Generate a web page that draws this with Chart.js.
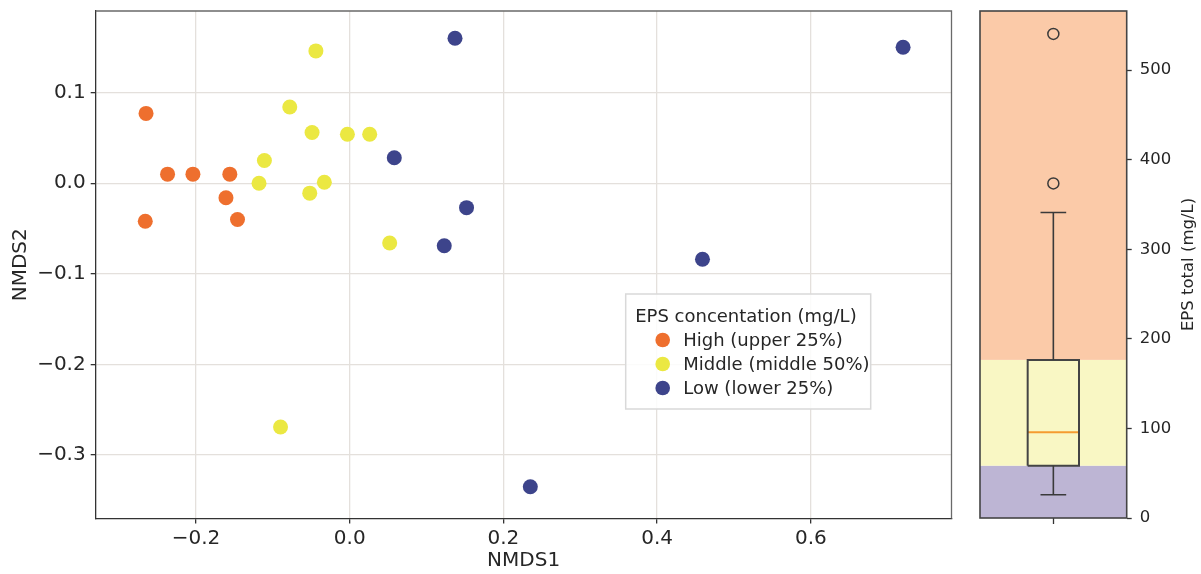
<!DOCTYPE html>
<html>
<head>
<meta charset="utf-8">
<script src="https://cdn.jsdelivr.net/npm/chart.js@4.4.1/dist/chart.umd.min.js"></script>
<style>
  html, body { margin: 0; padding: 0; background: #fff; }
  #wrap { position: relative; width: 1201px; height: 574px; }
  #nmds { position: absolute; left: 0; top: 0; }
  #eps { position: absolute; left: 960px; top: 0; }
</style>
</head>
<body>
<div id="wrap">
  <canvas id="nmds" width="960" height="574"></canvas>
  <canvas id="eps" width="241" height="574"></canvas>
</div>
<script>
// NMDS scores per sample, split by EPS concentration class
const highX = [-0.265, -0.266, -0.237, -0.204, -0.156, -0.161, -0.146];
const highY = [0.077, -0.042, 0.010, 0.010, 0.010, -0.016, -0.040];
const midX = [-0.044, -0.078, -0.049, -0.003, 0.026, -0.111, -0.118, -0.033, -0.052, 0.052, -0.090];
const midY = [0.146, 0.084, 0.056, 0.054, 0.054, 0.025, 0.000, 0.001, -0.011, -0.066, -0.269];
const lowX = [0.137, 0.720, 0.058, 0.152, 0.123, 0.459, 0.235];
const lowY = [0.160, 0.150, 0.028, -0.027, -0.069, -0.084, -0.335];
const classLabels = ['High (upper 25%)', 'Middle (middle 50%)', 'Low (lower 25%)'];
const xTicks = [-0.2, 0.0, 0.2, 0.4, 0.6];
const yTicks = [-0.3, -0.2, -0.1, 0.0, 0.1];

// EPS total (mg/L): whisker low, Q1, median, Q3, whisker high
const epsBox = [26, 58.4, 95.7, 176.5, 341];
const epsOutliers = [540.4, 373.5];
const epsTicks = [0, 100, 200, 300, 400, 500];

const FONT = 'DejaVu Sans';
const INK = '#262626';
Chart.defaults.font.family = FONT;
Chart.defaults.color = INK;

const pts = (xs, ys) => xs.map((x, i) => ({ x, y: ys[i] }));
const fmt = v => (v < -1e-9 ? '\u2212' : '') + Math.abs(v).toFixed(1);
const fixTicks = list => scale => { scale.ticks = list.map(v => ({ value: v })); };
// keep the plot box where the layout padding puts it
const noEdgePad = s => { s.paddingTop = 0; s.paddingBottom = 0; s.paddingLeft = 0; s.paddingRight = 0; };

// top and right spines
const frame = {
  id: 'frame',
  afterDraw(chart) {
    const { ctx, chartArea: a } = chart;
    ctx.save();
    ctx.strokeStyle = '#6a6a6a';
    ctx.lineWidth = 1.3;
    ctx.beginPath();
    ctx.moveTo(a.left, a.top);
    ctx.lineTo(a.right, a.top);
    ctx.lineTo(a.right, a.bottom);
    ctx.stroke();
    ctx.restore();
  }
};

// boxed legend with a title, drawn from the datasets
const classLegend = {
  id: 'classLegend',
  afterDraw(chart, args, o) {
    const { ctx } = chart;
    ctx.save();
    ctx.fillStyle = 'rgba(255,255,255,0.85)';
    ctx.strokeStyle = '#d9d9d9';
    ctx.lineWidth = 1.5;
    ctx.beginPath();
    ctx.rect(o.x, o.y, o.w, o.h);
    ctx.fill();
    ctx.stroke();
    ctx.font = '18px "' + FONT + '"';
    ctx.textBaseline = 'middle';
    ctx.fillStyle = INK;
    ctx.fillText(o.title, o.x + 9.5, o.y + 23);
    chart.data.datasets.forEach((ds, i) => {
      const cy = o.y + 47 + i * 24;
      ctx.fillStyle = ds.backgroundColor;
      ctx.beginPath();
      ctx.arc(o.x + 37, cy - 1, 7.3, 0, Math.PI * 2);
      ctx.fill();
      ctx.fillStyle = INK;
      ctx.fillText(ds.label, o.x + 57.5, cy);
    });
    ctx.restore();
  }
};

new Chart(document.getElementById('nmds'), {
  type: 'scatter',
  data: {
    datasets: [
      { label: classLabels[0], data: pts(highX, highY), backgroundColor: '#ee6f2e' },
      { label: classLabels[1], data: pts(midX, midY), backgroundColor: '#ebe842' },
      { label: classLabels[2], data: pts(lowX, lowY), backgroundColor: '#3d448b' }
    ]
  },
  options: {
    responsive: false,
    animation: false,
    layout: { padding: { top: 11, right: 8.5, left: 0, bottom: 0 } },
    elements: { point: { radius: 7.5, hoverRadius: 7.5, borderWidth: 0 } },
    events: [],
    plugins: {
      legend: { display: false },
      tooltip: { enabled: false },
      classLegend: { x: 625.7, y: 294, w: 245, h: 115, title: 'EPS concentation (mg/L)' }
    },
    scales: {
      x: {
        type: 'linear', min: -0.3305, max: 0.783,
        afterBuildTicks: fixTicks(xTicks),
        afterFit: s => { s.height = 55.5; noEdgePad(s); },
        grid: { color: '#e4e0dc', lineWidth: 1.3, tickColor: '#333', tickLength: 5, tickWidth: 1.3 },
        border: { color: '#333', width: 1.3 },
        ticks: { font: { size: 20 }, padding: 3, maxRotation: 0, autoSkip: false, callback: v => fmt(v) },
        title: { display: true, text: 'NMDS1', font: { size: 20 }, padding: { top: 0, bottom: 1 } }
      },
      y: {
        type: 'linear', min: -0.370, max: 0.190,
        afterBuildTicks: fixTicks(yTicks),
        afterFit: s => { s.width = 95.7; noEdgePad(s); },
        grid: { color: '#e4e0dc', lineWidth: 1.3, tickColor: '#333', tickLength: 5, tickWidth: 1.3 },
        border: { color: '#333', width: 1.3 },
        ticks: { font: { size: 20 }, padding: 5, autoSkip: false, callback: v => fmt(v) },
        title: { display: true, text: 'NMDS2', font: { size: 20 }, padding: { top: 8.5, bottom: 0 } }
      }
    }
  },
  plugins: [frame, classLegend]
});

// ---- EPS total box plot ----
const [wLo, q1, med, q3, wHi] = epsBox;
const boxHalf = 0.175, capHalf = 0.0875;
const seg = (pairs, color, width) => ({
  data: pairs.map(([x, y]) => ({ x, y })),
  showLine: true, borderColor: color, borderWidth: width,
  pointRadius: 0, fill: false, tension: 0
});

// quartile bands behind the box
const bands = {
  id: 'bands',
  beforeDatasetsDraw(chart) {
    const { ctx, chartArea: a, scales: { y } } = chart;
    const edges = [y.min, q1, q3, y.max];
    const colors = ['#bdb5d4', '#f9f7c4', '#fbcaa8'];
    ctx.save();
    colors.forEach((c, i) => {
      const top = Math.max(a.top, y.getPixelForValue(edges[i + 1]));
      const bot = Math.min(a.bottom, y.getPixelForValue(edges[i]));
      ctx.fillStyle = c;
      ctx.fillRect(a.left, top, a.right - a.left, bot - top);
    });
    ctx.restore();
  },
  afterDraw(chart) {
    const { ctx, chartArea: a } = chart;
    ctx.save();
    ctx.strokeStyle = '#444';
    ctx.lineWidth = 1.6;
    ctx.strokeRect(a.left, a.top, a.right - a.left, a.bottom - a.top);
    // y title reads bottom to top
    ctx.translate(228.5, (a.top + a.bottom) / 2);
    ctx.rotate(-Math.PI / 2);
    ctx.font = '16.5px "' + FONT + '"';
    ctx.fillStyle = INK;
    ctx.textAlign = 'center';
    ctx.textBaseline = 'middle';
    ctx.fillText('EPS total (mg/L)', 0, 0);
    ctx.restore();
  }
};

new Chart(document.getElementById('eps'), {
  type: 'scatter',
  data: {
    datasets: [
      seg([[1, q1], [1, wLo]], '#3a3a3a', 1.6),
      seg([[1, q3], [1, wHi]], '#3a3a3a', 1.6),
      seg([[1 - capHalf, wLo], [1 + capHalf, wLo]], '#3a3a3a', 1.6),
      seg([[1 - capHalf, wHi], [1 + capHalf, wHi]], '#3a3a3a', 1.6),
      seg([[1 - boxHalf, q1], [1 + boxHalf, q1], [1 + boxHalf, q3], [1 - boxHalf, q3], [1 - boxHalf, q1]], '#444', 2),
      seg([[1 - boxHalf, med], [1 + boxHalf, med]], '#f59c30', 2),
      {
        data: epsOutliers.map(y => ({ x: 1, y })),
        pointRadius: 5.5, pointBorderColor: '#3a3a3a', pointBackgroundColor: 'rgba(0,0,0,0)',
        pointBorderWidth: 1.5, showLine: false
      }
    ]
  },
  options: {
    responsive: false,
    animation: false,
    events: [],
    layout: { padding: { top: 11, left: 20, right: 0, bottom: 0 } },
    plugins: { legend: { display: false }, tooltip: { enabled: false } },
    scales: {
      x: {
        type: 'linear', min: 0.5, max: 1.5,
        afterBuildTicks: fixTicks([1]),
        afterFit: s => { s.height = 56; noEdgePad(s); },
        grid: { drawOnChartArea: false, tickColor: '#333', tickLength: 6, tickWidth: 1.3 },
        border: { display: false },
        ticks: { callback: () => '' }
      },
      y: {
        type: 'linear', position: 'right', min: 0, max: 566,
        afterBuildTicks: fixTicks(epsTicks),
        afterFit: s => { s.width = 74.3; noEdgePad(s); },
        grid: { drawOnChartArea: false, tickColor: '#333', tickLength: 5, tickWidth: 1.3 },
        border: { display: false },
        ticks: { font: { size: 16.5 }, padding: 8, autoSkip: false, callback: v => String(v) }
      }
    }
  },
  plugins: [bands]
});
</script>
</body>
</html>
